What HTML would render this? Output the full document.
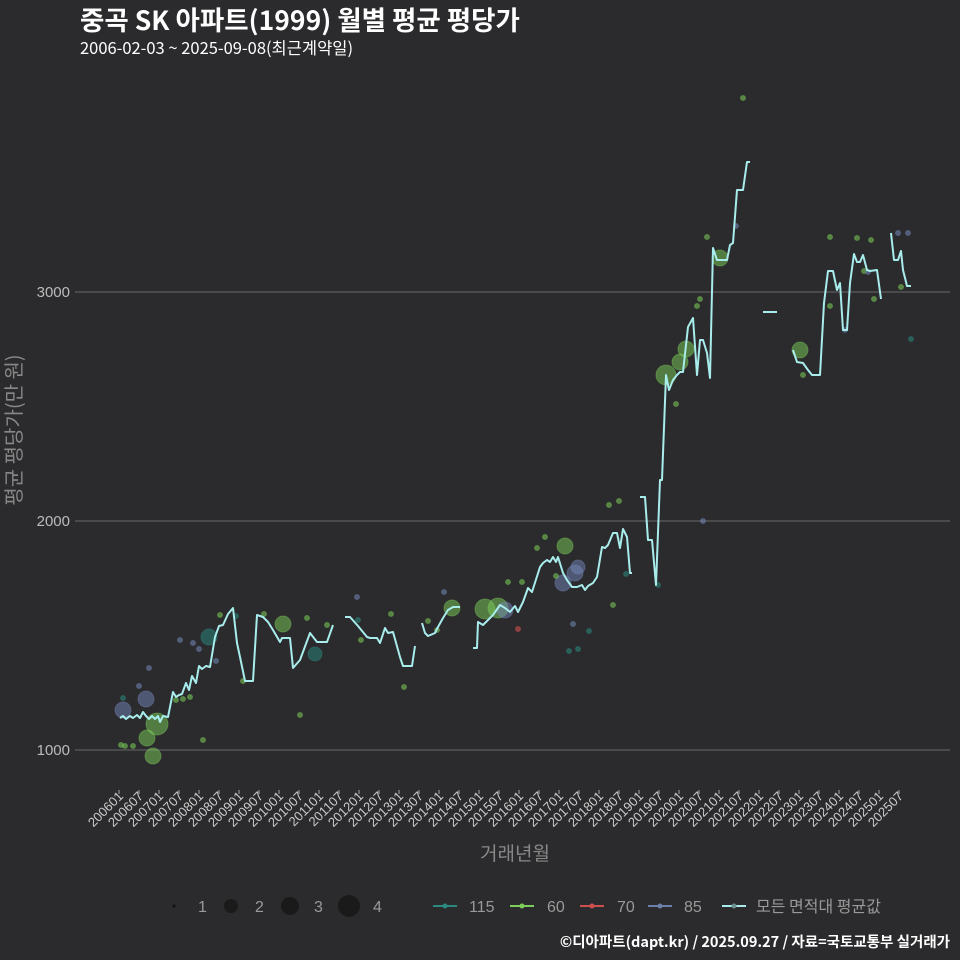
<!DOCTYPE html>
<html><head><meta charset="utf-8"><style>
body{margin:0;background:#2b2b2d;}
svg{display:block;font-family:"Liberation Sans","Noto Sans CJK KR",sans-serif;}
</style></head><body>
<svg width="960" height="960" viewBox="0 0 960 960" xmlns="http://www.w3.org/2000/svg">
<rect width="960" height="960" fill="#2b2b2d"/>
<text x="80" y="30" fill="#fff" font-size="26.5" font-weight="bold" font-family="Noto Sans CJK KR,sans-serif">중곡 SK 아파트(1999) 월별 평균 평당가</text>
<text x="80" y="54" fill="#fff" font-size="16.5" font-family="Noto Sans CJK KR,sans-serif">2006-02-03 ~ 2025-09-08(최근계약일)</text>
<g stroke="#6a6a6a" stroke-width="1">
<line x1="75" y1="292" x2="950" y2="292"/><line x1="75" y1="521" x2="950" y2="521"/><line x1="75" y1="750" x2="950" y2="750"/>
</g>
<g fill="#bbb" font-size="15" text-anchor="end">
<text x="70" y="297">3000</text><text x="70" y="526">2000</text><text x="70" y="755">1000</text>
</g>
<text transform="translate(21,430) rotate(-90)" fill="#888" font-size="20" text-anchor="middle" font-family="Noto Sans CJK KR,sans-serif">평균 평당가(만 원)</text>
<g id="ticks" stroke="#aaa" stroke-width="1"></g>
<g id="tl" fill="#ccc" font-size="13" text-anchor="end"></g>
<text x="515" y="860" fill="#888" font-size="19" text-anchor="middle" font-family="Noto Sans CJK KR,sans-serif">거래년월</text>
<g id="pts"></g>
<g fill="none" stroke="#a8ecec" stroke-width="2" stroke-linejoin="round">
<polyline points="120,718 123,716 126,719 130,716 133,718 137,715 140,718 143,712 146,716 149,719 152,716 155,719 158,716 160,722 163,716 168,717 173,692 176,697 179,695 182,694 186,683 189,690 192,676 196,683 199,666 202,669 206,666 210,667 215,637 219,626 223,625 228,614 233,608 237,643 240,657 245,681 253,681 257,615 263,617 268,622 273,630 280,642 282,638 290,638 293,668 300,660 310,633 317,642 327,642 333,625"/>
<polyline points="345,617 350,617 358,626 367,637 370,638 377,638 380,643 385,628 388,633 393,632 400,657 403,666 412,666 415,646"/>
<polyline points="422,623 425,633 428,636 435,633 438,627 443,618 448,610 453,607 460,607"/>
<polyline points="473,648 477,648 478,622 483,625 488,620 493,615 500,605 505,608 510,612 515,606 518,612 523,602 528,588 532,592 540,567 543,563 547,560 550,562 553,557 556,562 558,557 563,573 567,580 572,587 577,587 582,585 585,590 588,586 593,583 597,577 602,547 605,548 608,545 613,533 617,533 620,548 623,529 627,537 630,573 632,573"/>
<polyline points="640,497 645,497 648,540 652,540 656,585 660,480 662,480 666,375 669,390 673,380 677,375 680,372 683,372 688,327 693,318 697,375 700,340 703,340 707,353 710,378 713,248 717,260 727,260 730,245 733,243 737,190 743,190 747,162 750,162"/>
<polyline points="763,312 777,312"/>
<polyline points="793,350 797,362 803,363 808,370 812,375 820,375 824,303 828,271 833,271 837,290 840,283 843,330 847,330 850,283 854,254 857,262 860,262 863,255 867,270 870,271 877,270 881,299"/>
<polyline points="891,233 894,260 898,260 901,251 903,270 907,286 911,286"/>
</g>
<g font-size="16" fill="#999">
<circle cx="174" cy="906" r="1.5" fill="#111"/><text x="198" y="912">1</text>
<circle cx="231" cy="906" r="7" fill="#1a1a1a"/><text x="255" y="912">2</text>
<circle cx="290" cy="906" r="9" fill="#1a1a1a"/><text x="314" y="912">3</text>
<circle cx="349" cy="906" r="11" fill="#1a1a1a"/><text x="373" y="912">4</text>
<line x1="433" y1="906" x2="457" y2="906" stroke="#2a8a80" stroke-width="2"/><circle cx="445" cy="906" r="2.5" fill="#2a8a80"/><text x="469" y="912">115</text>
<line x1="510" y1="906" x2="534" y2="906" stroke="#7ccd5a" stroke-width="2"/><circle cx="522" cy="906" r="2.5" fill="#7ccd5a"/><text x="547" y="912">60</text>
<line x1="580" y1="906" x2="604" y2="906" stroke="#d05050" stroke-width="2"/><circle cx="592" cy="906" r="2.5" fill="#d05050"/><text x="617" y="912">70</text>
<line x1="648" y1="906" x2="672" y2="906" stroke="#6b7fa8" stroke-width="2"/><circle cx="660" cy="906" r="2.5" fill="#6b7fa8"/><text x="684" y="912">85</text>
<line x1="722" y1="906" x2="746" y2="906" stroke="#a8ecec" stroke-width="2"/><circle cx="734" cy="906" r="2.5" fill="#6b8f8f"/><text x="756" y="912" font-family="Noto Sans CJK KR,sans-serif">모든 면적대 평균값</text>
</g>
<text x="950" y="947" fill="#fff" font-size="14.5" font-weight="bold" text-anchor="end" font-family="Noto Sans CJK KR,sans-serif">©디아파트(dapt.kr) / 2025.09.27 / 자료=국토교통부 실거래가</text>
<script>
var t=document.getElementById('ticks'),tl=document.getElementById('tl'),ns='http://www.w3.org/2000/svg';
for(var i=0;i<40;i++){var x=119+i*20,y=2006+Math.floor(i/2),m=i%2?'07':'01';
var l=document.createElementNS(ns,'line');l.setAttribute('x1',x);l.setAttribute('x2',x);l.setAttribute('y1',790);l.setAttribute('y2',794);t.appendChild(l);
var s=document.createElementNS(ns,'text');s.setAttribute('transform','translate('+(x+5)+',797) rotate(-45)');s.textContent=y+m;tl.appendChild(s);}
var C={g:'#7ccd5a',b:'#7386b8',t:'#2a8a80',r:'#e05050'};
var P=[[123,710,8,'b'],[146,699,8,'b'],[157,724,11,'g'],[147,738,8,'g'],[153,756,8,'g'],[209,637,8,'t'],[315,654,7,'t'],[283,624,8,'g'],[452,608,8,'g'],[485,609,10,'g'],[498,608,10,'g'],[505,610,8,'b'],[565,546,8,'g'],[563,583,8,'b'],[575,573,8,'b'],[578,567,7,'b'],[666,375,10,'g'],[680,362,8,'g'],[686,349,8,'g'],[720,258,8,'g'],[800,350,8,'g'],
[121,745,2.5,'g'],[125,746,2.5,'g'],[133,746,2.5,'g'],[123,698,2.5,'t'],[139,686,2.5,'b'],[149,668,2.5,'b'],[180,640,2.5,'b'],[193,643,2.5,'b'],[203,740,2.5,'g'],[176,700,2.5,'g'],[183,699,2.5,'g'],[190,697,2.5,'g'],[199,649,2.5,'b'],[216,661,2.5,'b'],[220,615,2.5,'g'],[236,616,2.5,'t'],[243,681,2.5,'g'],[264,614,2.5,'g'],[300,715,2.5,'g'],[307,618,2.5,'g'],[327,625,2.5,'g'],[357,597,2.5,'b'],[358,620,2.5,'t'],[361,640,2.5,'g'],[391,614,2.5,'g'],[404,687,2.5,'g'],[428,621,2.5,'g'],[437,630,2.5,'g'],[444,592,2.5,'b'],[508,582,2.5,'g'],[522,582,2.5,'g'],[518,629,2.5,'r'],[537,548,2.5,'g'],[545,537,2.5,'g'],[556,576,2.5,'g'],[569,651,2.5,'t'],[573,624,2.5,'b'],[578,649,2.5,'t'],[589,631,2.5,'t'],[609,505,2.5,'g'],[613,605,2.5,'g'],[619,501,2.5,'g'],[626,574,2.5,'t'],[658,585,2.5,'t'],[676,404,2.5,'g'],[697,306,2.5,'g'],[700,299,2.5,'g'],[703,521,2.5,'b'],[707,237,2.5,'g'],[736,226,2.5,'b'],[743,98,2.5,'g'],[803,375,2.5,'g'],[830,237,2.5,'g'],[830,306,2.5,'g'],[857,238,2.5,'g'],[864,271,2.5,'g'],[871,240,2.5,'g'],[874,299,2.5,'g'],[898,233,2.5,'b'],[908,233,2.5,'b'],[901,287,2.5,'g'],[911,339,2.5,'t'],[845,330,2.5,'b'],[868,272,2.5,'b']];
var g=document.getElementById('pts');
P.forEach(function(p){var c=document.createElementNS(ns,'circle');c.setAttribute('cx',p[0]);c.setAttribute('cy',p[1]);c.setAttribute('r',p[2]);c.setAttribute('fill',C[p[3]]);c.setAttribute('fill-opacity',p[2]>3?0.5:0.55);c.setAttribute('stroke',C[p[3]]);c.setAttribute('stroke-opacity',0.4);g.appendChild(c);});
</script>
</svg>
</body></html>
